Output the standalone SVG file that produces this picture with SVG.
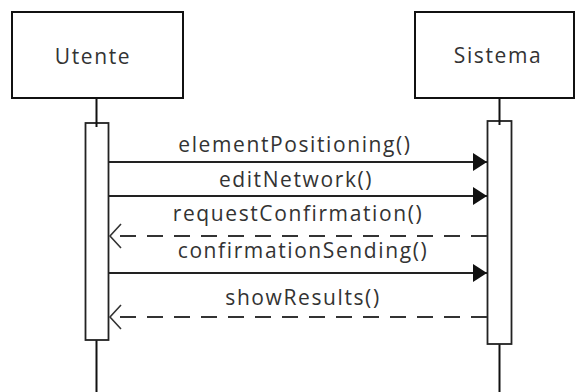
<svg xmlns="http://www.w3.org/2000/svg" width="575" height="392" viewBox="0 0 575 392">
<style>
.box{fill:#fff;stroke:#111;stroke-width:2}
.life{stroke:#111;stroke-width:2;fill:none}
.act{fill:#fff;stroke:#222;stroke-width:1.8}
.msg{stroke:#222;stroke-width:2;fill:none}
.ret{stroke:#333;stroke-width:2;fill:none;stroke-dasharray:16 11}
text{font-family:"Open Sans","DejaVu Sans",sans-serif;fill:#333;font-size:21px;letter-spacing:1.6px}
.lbl{text-anchor:middle}
</style>
<defs>
<marker id="filled" markerUnits="userSpaceOnUse" markerWidth="16" markerHeight="20" refX="14" refY="9" orient="auto">
<path d="M0,0 L14,9 L0,18 Z" fill="#111"/>
</marker>
<marker id="open" markerUnits="userSpaceOnUse" markerWidth="14" markerHeight="28" refX="12" refY="13" orient="auto">
<path d="M1,1 L12,13 L1,25" fill="none" stroke="#333" stroke-width="1.6"/>
</marker>
</defs>
<g id="utente">
<rect class="box" x="12" y="12" width="171" height="86"/>
<text class="lbl" x="93" y="64">Utente</text>
<line class="life" x1="96.5" y1="340" x2="96.5" y2="392"/>
<rect class="act" x="85.5" y="123" width="23" height="217"/>
<line class="life" x1="96.5" y1="98" x2="96.5" y2="127"/>
</g>
<g id="sistema">
<rect class="box" x="415" y="12" width="159" height="86"/>
<text class="lbl" x="498" y="63">Sistema</text>
<line class="life" x1="499.5" y1="344" x2="499.5" y2="392"/>
<rect class="act" x="487.5" y="121" width="24" height="223"/>
<line class="life" x1="499.5" y1="98" x2="499.5" y2="125"/>
</g>
<g id="connectors">
<line class="msg" x1="109" y1="162" x2="487" y2="162" marker-end="url(#filled)"/>
<text class="lbl" x="295" y="152">elementPositioning()</text>
<line class="msg" x1="109" y1="196" x2="487" y2="196" marker-end="url(#filled)"/>
<text class="lbl" x="296" y="187">editNetwork()</text>
<line class="ret" x1="487" y1="236" x2="110" y2="236" marker-end="url(#open)"/>
<text class="lbl" x="298" y="221">requestConfirmation()</text>
<line class="msg" x1="109" y1="273" x2="487" y2="273" marker-end="url(#filled)"/>
<text class="lbl" x="303" y="258">confirmationSending()</text>
<line class="ret" x1="487" y1="317" x2="110" y2="317" marker-end="url(#open)"/>
<text class="lbl" x="303" y="305">showResults()</text>
</g>
</svg>
